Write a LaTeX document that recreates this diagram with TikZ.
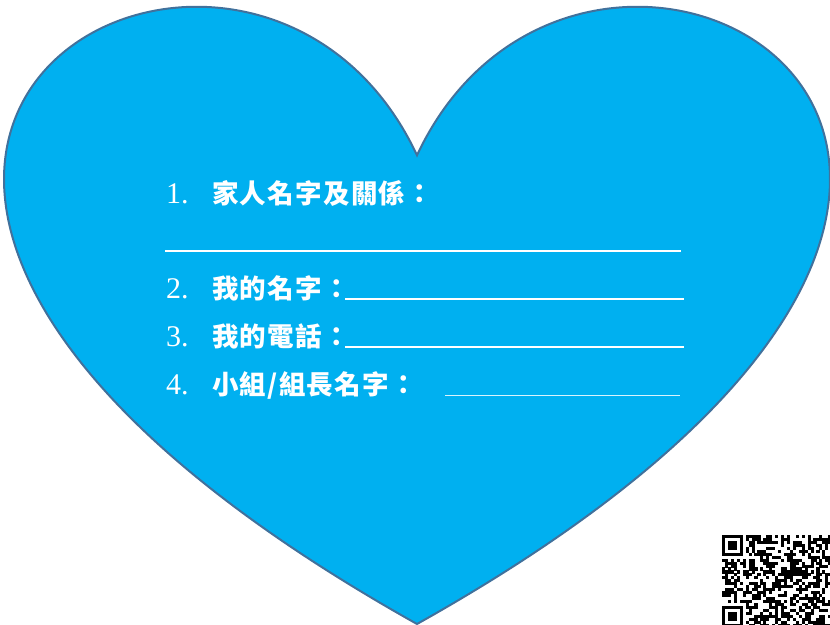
\documentclass[tikz,border=0pt]{standalone}
\usepackage{fontspec}
\usepackage{tikz}
\usetikzlibrary{positioning}
\newfontfamily\cjkfont[LetterSpace=4.8]{Noto Sans CJK TC}
\newfontfamily\numfont{Liberation Serif}
\definecolor{heartblue}{RGB}{0,176,240}
\definecolor{heartline}{RGB}{65,113,156}

\begin{document}
\begin{tikzpicture}[x = 1pt, y = -1pt,
			itemtext/.style = {text=white, inner sep=0pt, anchor=base west,
				font=\cjkfont\bfseries\fontsize{26.5}{32}\selectfont},
			itemnum/.style = {text=white, inner sep=0pt, anchor=base west,
				font=\numfont\fontsize{30}{32}\selectfont},
			answerline/.style = {draw=white, line width=2pt}]
			\useasboundingbox (0,0) rectangle (830,624);
			\clip (0,0) rectangle (830,624);
			
			% heart
			\path[draw=heartline, fill=heartblue, line width=2pt]
			(417,155.25) .. controls (587.8,-209.3) and (1254.1,155.25) .. (417,624)
			.. controls (-420.1,155.25) and (246.2,-209.3) .. (417,155.25) -- cycle;
			
			% form
			\node[itemnum] (num1) at (166,203) {1.};
			\node[itemnum] (num2) at (166,298) {2.};
			\node[itemnum] (num3) at (166,346) {3.};
			\node[itemnum] (num4) at (166,394) {4.};
			%
			\node[itemtext] (item1) at (212,203) {家人名字及關係：};
			\node[itemtext] (item2) at (212,298) {我的名字：};
			\node[itemtext] (item3) at (212,346) {我的電話：};
			\node[itemtext] (item4) at (212,394) {小組/組長名字：};
			
			\draw[answerline] (165,251) -- (681,251)
			(345,299) -- (684,299)
			(345,347) -- (684,347);
			\draw[answerline, line width=1pt, white!85!heartblue] (445,395) -- (680,395);
			
			% qr code
			\def\qrmod{2.95}
			\pgfmathsetseed{11}
			\foreach \i in {0,...,36}{
				\foreach \j in {0,...,30}{
					\pgfmathtruncatemacro\infinder{(\i<8)&&((\j<8)||(\j>22))}
					\pgfmathtruncatemacro\bit{rnd<0.5}
					\ifnum\infinder=0 \ifnum\bit=1
					\fill (722+\i*\qrmod, 535+\j*\qrmod) rectangle ++(3.1,3.1);
					\fi\fi
				}
			}
			\foreach \fy in {535, 605.8}{
				\fill (722,\fy) rectangle ++(20.65,20.65);
				\fill[white] (724.95,\fy+2.95) rectangle ++(14.75,14.75);
				\fill (727.9,\fy+5.9) rectangle ++(8.85,8.85);
			}
		\end{tikzpicture}
\end{document}
